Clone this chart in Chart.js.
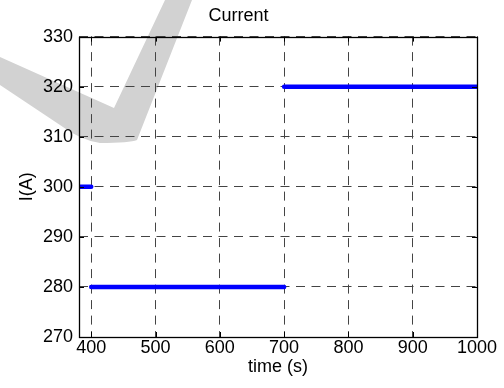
<!DOCTYPE html>
<html>
<head>
<meta charset="utf-8">
<script src="https://cdn.jsdelivr.net/npm/chart.js@4/dist/chart.umd.min.js"></script>
<style>
  html, body { margin: 0; padding: 0; background: #fff; }
  #wrap { width: 504px; height: 388px; }
</style>
</head>
<body>
<div id="wrap"><canvas id="chart"></canvas></div>
<script>
// time (s) / current (A) for each step of the signal
const timeStart = [381, 400];
const currentStart = [300, 300];
const timeLow = [400, 700];
const currentLow = [280, 280];
const timeHigh = [700, 1000];
const currentHigh = [320, 320];

const xTicks = [400, 500, 600, 700, 800, 900, 1000];
const yTicks = [270, 280, 290, 300, 310, 320, 330];

const FONT = 'Arial, "Liberation Sans", sans-serif';

const toPoints = (xs, ys) => xs.map((x, i) => ({ x: x, y: ys[i] }));

// faint check-mark watermark behind the plot
const watermark = {
    id: 'watermark',
    beforeDraw(chart) {
        const ctx = chart.ctx;
        ctx.save();
        ctx.fillStyle = '#d2d2d2';
        ctx.beginPath();
        ctx.moveTo(0, 57);
        ctx.lineTo(114, 108);
        ctx.lineTo(165, 0);
        ctx.lineTo(192, 0);
        ctx.lineTo(137, 140);
        ctx.quadraticCurveTo(130, 143, 100, 143);
        ctx.quadraticCurveTo(80, 140, 60, 125);
        ctx.lineTo(0, 85);
        ctx.closePath();
        ctx.fill();
        ctx.restore();
    }
};

// matlab style box with inward tick marks
const frame = {
    id: 'frame',
    afterDraw(chart) {
        const { ctx, chartArea: a, scales } = chart;
        ctx.save();
        ctx.strokeStyle = '#000';
        ctx.lineWidth = 1;
        ctx.beginPath();
        xTicks.forEach(v => {
            const px = Math.round(scales.x.getPixelForValue(v)) + 0.5;
            ctx.moveTo(px, a.bottom); ctx.lineTo(px, a.bottom - 5);
            ctx.moveTo(px, a.top); ctx.lineTo(px, a.top + 5);
        });
        yTicks.forEach(v => {
            const py = Math.round(scales.y.getPixelForValue(v)) + 0.5;
            ctx.moveTo(a.left, py); ctx.lineTo(a.left + 5, py);
            ctx.moveTo(a.right, py); ctx.lineTo(a.right - 5, py);
        });
        ctx.stroke();
        ctx.lineWidth = 1.3;
        ctx.strokeRect(Math.round(a.left) + 0.5, Math.round(a.top) + 0.5,
            Math.round(a.right - a.left), Math.round(a.bottom - a.top));
        ctx.restore();
    }
};

const lineStyle = {
    borderColor: '#0000ff',
    borderWidth: 4.5,
    borderCapStyle: 'round',
    pointRadius: 0,
    showLine: true,
    fill: false
};

new Chart(document.getElementById('chart'), {
    type: 'scatter',
    data: {
        datasets: [
            { label: 'start', data: toPoints(timeStart, currentStart), ...lineStyle },
            { label: 'low', data: toPoints(timeLow, currentLow), ...lineStyle },
            { label: 'high', data: toPoints(timeHigh, currentHigh), ...lineStyle }
        ]
    },
    options: {
        responsive: true,
        maintainAspectRatio: false,
        animation: false,
        layout: { padding: { left: 0, right: 27, top: 0, bottom: 0 } },
        plugins: {
            legend: { display: false },
            tooltip: { enabled: false },
            title: {
                display: true,
                text: 'Current',
                color: '#000',
                font: { family: FONT, size: 18, weight: 'normal' },
                padding: { top: 5, bottom: 10 }
            }
        },
        scales: {
            x: {
                type: 'linear',
                min: timeStart[0],
                max: 1000,
                afterBuildTicks: s => { s.ticks = xTicks.map(v => ({ value: v })); },
                afterFit: s => { s.height = 51; },
                border: { display: false, dash: [9, 6.5] },
                grid: { color: '#444', lineWidth: 1, drawTicks: false },
                ticks: {
                    color: '#000', padding: 0, font: { family: FONT, size: 18 },
                    callback: v => String(v)
                },
                title: {
                    display: true, text: 'time (s)', color: '#000',
                    font: { family: FONT, size: 18 }, padding: { top: 0, bottom: 10 }
                }
            },
            y: {
                min: 270,
                max: 330,
                afterBuildTicks: s => { s.ticks = yTicks.map(v => ({ value: v })); },
                afterFit: s => { s.width = 79; },
                border: { display: false, dash: [9, 6.5] },
                grid: { color: '#444', lineWidth: 1, drawTicks: false },
                ticks: {
                    color: '#000', padding: 6, font: { family: FONT, size: 18 },
                    callback: v => String(v)
                },
                title: {
                    display: true, text: 'I(A)', color: '#000',
                    font: { family: FONT, size: 18 }, padding: { top: 16, bottom: 0 }
                }
            }
        }
    },
    plugins: [watermark, frame]
});
</script>
</body>
</html>
